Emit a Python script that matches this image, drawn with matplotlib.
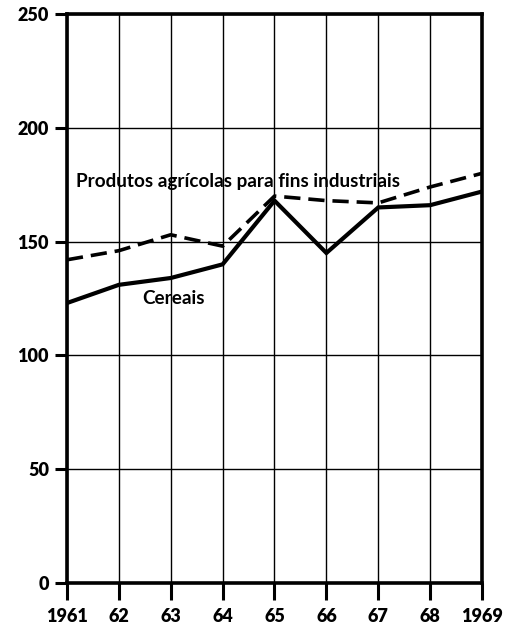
import matplotlib.pyplot as plt
import numpy as np

# Years and index values
years = [1961, 1962, 1963, 1964, 1965, 1966, 1967, 1968, 1969]
year_labels = ['1961', '62', '63', '64', '65', '66', '67', '68', '1969']
cereais = [123, 131, 134, 140, 168, 145, 165, 166, 172]
industriais = [142, 146, 153, 148, 170, 168, 167, 174, 180]
y_ticks = [0, 50, 100, 150, 200, 250]

plt.rcParams['font.family'] = ['Lato', 'DejaVu Sans']

fig = plt.figure(figsize=(5.15, 6.28), dpi=100)
ax = fig.add_axes([0.130, 0.0717, 0.806, 0.906])

# Data lines
ax.plot(years, cereais, color='black', linewidth=3.0, solid_joinstyle='miter')
ax.plot(years, industriais, color='black', linewidth=2.6, dashes=(4.5, 2.2))

# Line labels
ax.text(1964.3, 176.5, 'Produtos agrícolas para fins industriais',
        ha='center', va='center', fontsize=13.6, fontweight='bold')
ax.text(1963.05, 125, 'Cereais', ha='center', va='center',
        fontsize=13.6, fontweight='bold')

# Axes limits and ticks
ax.set_xlim(1961, 1969)
ax.set_ylim(0, 250)
ax.set_xticks(years)
ax.set_xticklabels(year_labels)
ax.set_yticks(y_ticks)
ax.tick_params(axis='both', direction='out', width=2.2, color='black',
               labelsize=13)
ax.tick_params(axis='x', length=12, pad=6)
ax.tick_params(axis='y', length=9, pad=4)
for lbl in ax.get_xticklabels() + ax.get_yticklabels():
    lbl.set_fontweight('heavy')

# Grid
ax.grid(True, color='black', linewidth=1.0)
ax.set_axisbelow(True)

for spine in ax.spines.values():
    spine.set_linewidth(2.6)

fig.savefig('out.png', dpi=100)
